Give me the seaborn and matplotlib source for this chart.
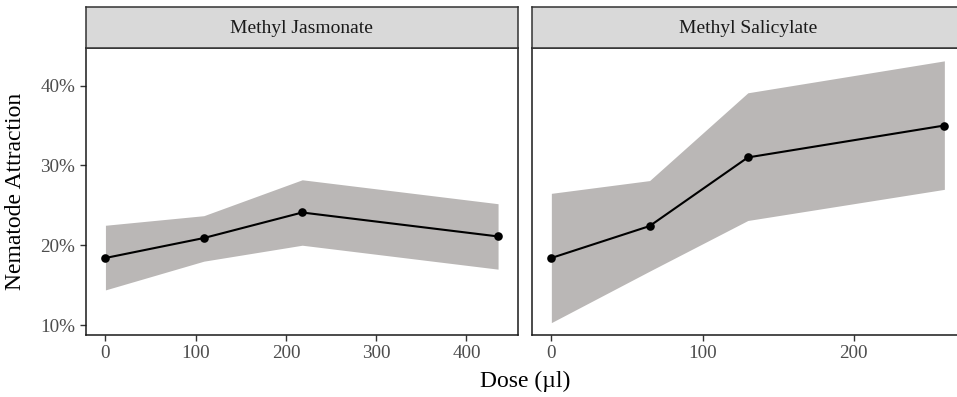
import numpy as np
import pandas as pd
import matplotlib
matplotlib.use("Agg")
import matplotlib.pyplot as plt
import seaborn as sns
from matplotlib.ticker import FuncFormatter

sns.set_theme(style="white")
plt.rcParams['font.family'] = ['Liberation Serif', 'DejaVu Serif']

# ---- data ----
compounds = ["Methyl Jasmonate", "Methyl Salicylate"]
dose_mj = [0, 109, 218, 435]
mean_mj = [18.4, 20.9, 24.1, 21.1]
low_mj = [14.4, 18.0, 20.0, 17.0]
high_mj = [22.5, 23.7, 28.2, 25.2]

dose_ms = [0, 65, 130, 260]
mean_ms = [18.4, 22.4, 31.0, 35.0]
low_ms = [10.3, 16.75, 23.1, 27.0]
high_ms = [26.5, 28.1, 39.1, 43.1]

y_ticks = [10, 20, 30, 40]
x_ticks_mj = [0, 100, 200, 300, 400]
x_ticks_ms = [0, 100, 200]

df = pd.concat([
    pd.DataFrame({"compound": compounds[0], "dose": dose_mj, "mean": mean_mj, "low": low_mj, "high": high_mj}),
    pd.DataFrame({"compound": compounds[1], "dose": dose_ms, "mean": mean_ms, "low": low_ms, "high": high_ms}),
])

W, H = 957, 397
fig = plt.figure(figsize=(W / 100, H / 100), dpi=100)

def fx(px):
    return px / W

def fy(px):
    return 1 - px / H

panel_top, panel_bot = 47.7, 335.0
strip_top = 7.3
panels = [(85.8, 517.7), (531.7, 964.0)]
xlims = [(-21.75, 456.75), (-13.0, 273.0)]
xticks = [x_ticks_mj, x_ticks_ms]

ylim = (8.75, 44.75)
edge = "#1a1a1a"
tick_col = "#4D4D4D"

for i, comp in enumerate(compounds):
    l, r = panels[i]
    ax = fig.add_axes([fx(l), fy(panel_bot), fx(r - l), (panel_bot - panel_top) / H])
    sub = df[df["compound"] == comp]
    ax.fill_between(sub["dose"], sub["low"], sub["high"], color="#BAB7B6", linewidth=0, zorder=1)
    sns.lineplot(data=sub, x="dose", y="mean", ax=ax, color="black", linewidth=1.5,
                 marker="o", markersize=6.2, markeredgewidth=0, markerfacecolor="black", zorder=3)
    ax.set_xlim(*xlims[i])
    ax.set_ylim(*ylim)
    ax.set_xticks(xticks[i])
    ax.set_yticks(y_ticks)
    ax.yaxis.set_major_formatter(FuncFormatter(lambda v, p: f"{int(v)}%"))
    ax.set_xlabel("")
    ax.set_ylabel("")
    for s in ax.spines.values():
        s.set_visible(True)
        s.set_color(edge)
        s.set_linewidth(1.1)
    ax.tick_params(axis="both", which="both", direction="out", length=4.3, width=1.0,
                   color="#333333", labelsize=13.8, labelcolor=tick_col, pad=3.2,
                   bottom=True, left=(i == 0), labelleft=(i == 0))
    ax.set_facecolor("white")
    ax.grid(False)

    # strip
    sax = fig.add_axes([fx(l), fy(panel_top), fx(r - l), (panel_top - strip_top) / H])
    sax.set_facecolor("#D9D9D9")
    sax.set_xticks([])
    sax.set_yticks([])
    for s in sax.spines.values():
        s.set_visible(True)
        s.set_color("#333333")
        s.set_linewidth(1.1)
    sax.text(0.5, 0.47, comp, ha="center", va="center", fontsize=14,
             color="#1a1a1a", transform=sax.transAxes)

fig.text(fx(525), fy(381), "Dose (µl)", ha="center", va="center", fontsize=17, color="black")
fig.text(fx(16), fy(191), "Nematode Attraction", ha="center", va="center", rotation=90,
         fontsize=17, color="black")

fig.savefig("out.png", dpi=100)
